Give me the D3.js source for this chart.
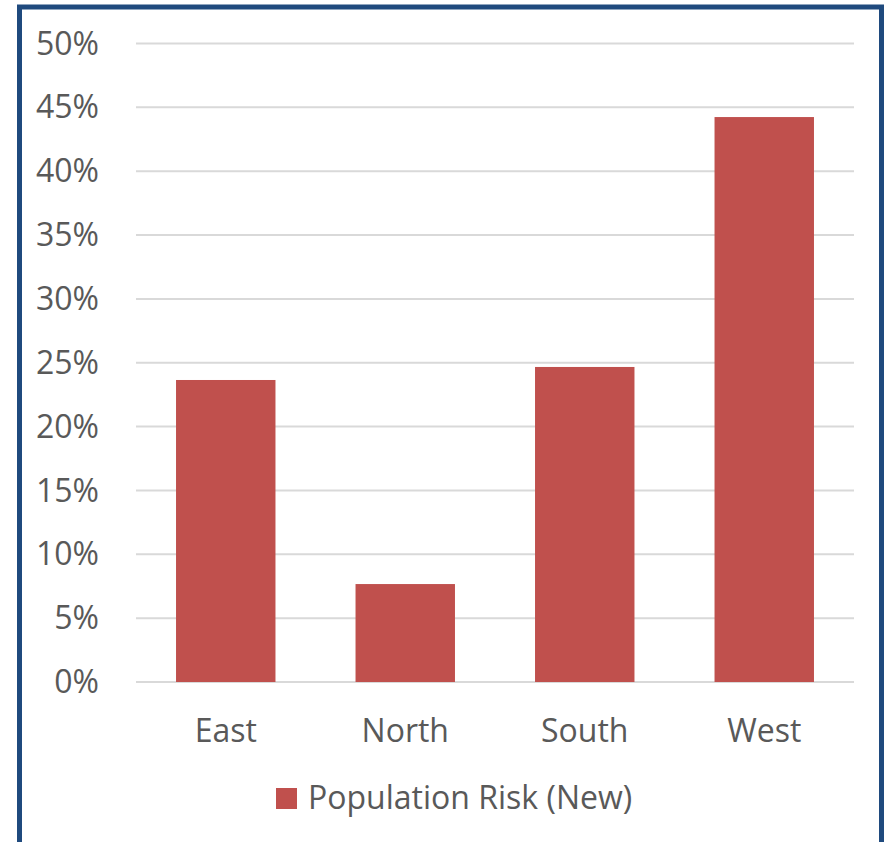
<!DOCTYPE html>
<html>
<head>
<meta charset="utf-8">
<script src="https://cdn.jsdelivr.net/npm/d3@7"></script>
<style>
  html, body { margin: 0; padding: 0; background: #fff; }
  svg { display: block; }
  text { font-family: "Open Sans", "Noto Sans", sans-serif; fill: #595959; }
</style>
</head>
<body>
<svg id="chart" width="884" height="842"></svg>
<script>
// Regions and their population risk share
const regions = ["East", "North", "South", "West"];
const riskValues = [0.2365, 0.0767, 0.2467, 0.4424];
const seriesName = "Population Risk (New)";
const yTicks = [0, 0.05, 0.10, 0.15, 0.20, 0.25, 0.30, 0.35, 0.40, 0.45, 0.50];

const barColor = "#C0504D";
const gridColor = "#D9D9D9";
const frameColor = "#1F4A7E";
const labelFont = '"Open Sans", "Noto Sans", sans-serif';

const svg = d3.select("#chart");

// Outer frame (bottom edge runs past the visible area)
svg.append("rect")
  .attr("x", 19.5).attr("y", 7)
  .attr("width", 862).attr("height", 900)
  .attr("fill", "#fff")
  .attr("stroke", frameColor)
  .attr("stroke-width", 5);

const plot = { left: 136, right: 854, top: 43.5, bottom: 682 };

const x = d3.scaleBand()
  .domain(regions)
  .range([plot.left, plot.right])
  .paddingInner(0.446)
  .paddingOuter(0.223);

const y = d3.scaleLinear()
  .domain([0, 0.5])
  .range([plot.bottom, plot.top]);

// Horizontal gridlines
svg.append("g")
  .selectAll("line")
  .data(yTicks)
  .join("line")
  .attr("x1", plot.left).attr("x2", plot.right)
  .attr("y1", d => y(d)).attr("y2", d => y(d))
  .attr("stroke", gridColor)
  .attr("stroke-width", 2);

// Bars
svg.append("g")
  .selectAll("rect")
  .data(regions.map((r, i) => ({ region: r, value: riskValues[i] })))
  .join("rect")
  .attr("x", d => x(d.region))
  .attr("width", x.bandwidth())
  .attr("y", d => y(d.value))
  .attr("height", d => y(0) - y(d.value))
  .attr("fill", barColor);

// Y axis labels
const yAxis = svg.append("g")
  .attr("transform", `translate(${plot.left},0)`)
  .call(d3.axisLeft(y).tickValues(yTicks).tickFormat(d3.format(".0%")).tickSize(0).tickPadding(37));
yAxis.select(".domain").remove();
yAxis.selectAll("text")
  .attr("fill", "#595959")
  .attr("dy", "0.33em")
  .style("font-size", "32px")
  .style("font-family", labelFont);

// X axis labels
const xAxis = svg.append("g")
  .attr("transform", `translate(0,${plot.bottom})`)
  .call(d3.axisBottom(x).tickSize(0).tickPadding(37));
xAxis.select(".domain").remove();
xAxis.selectAll("text")
  .attr("fill", "#595959")
  .style("font-size", "32px")
  .style("font-family", labelFont);

// Legend
const legend = svg.append("g");
legend.append("rect")
  .attr("x", 276).attr("y", 788)
  .attr("width", 21).attr("height", 21)
  .attr("fill", barColor);
legend.append("text")
  .attr("x", 308).attr("y", 809)
  .style("font-size", "32px")
  .text(seriesName);
</script>
</body>
</html>
